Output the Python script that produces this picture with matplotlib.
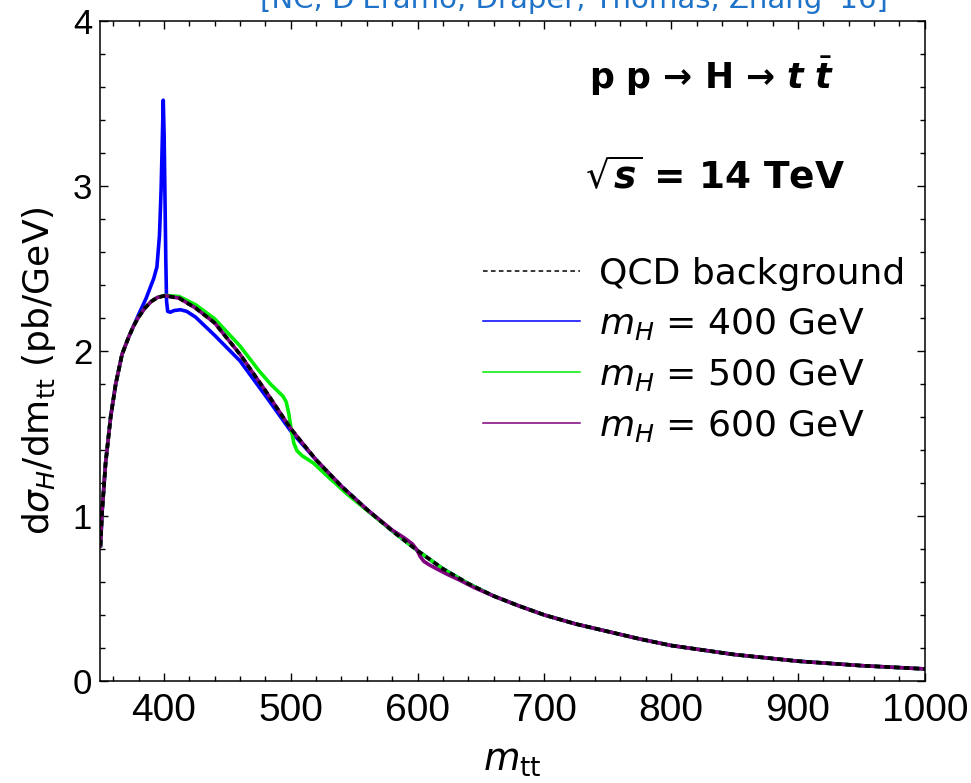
import matplotlib
matplotlib.use('Agg')
import matplotlib.pyplot as plt
from matplotlib.lines import Line2D
from matplotlib.ticker import MultipleLocator

plt.rcParams['font.family'] = ['DejaVu Sans']
plt.rcParams['mathtext.fontset'] = 'dejavusans'

# QCD background, d sigma / d m_tt in pb/GeV
bg_m = [350, 351.3, 354, 358, 362, 367, 372, 376, 380, 385, 390, 395, 401, 412, 425, 440, 460, 480, 500,
        520, 540, 560, 580, 600, 620, 640, 660, 680, 700, 725, 750, 775, 800, 850, 900, 950, 1000]
bg_v = [0.82, 1.03, 1.32, 1.60, 1.80, 1.98, 2.08, 2.15, 2.205, 2.26, 2.30, 2.325, 2.335, 2.32, 2.26, 2.17,
        1.98, 1.76, 1.53, 1.34, 1.18, 1.04, 0.91, 0.79, 0.68, 0.59, 0.515, 0.455, 0.40, 0.345, 0.30, 0.255,
        0.215, 0.16, 0.12, 0.093, 0.073]

# m_H = 400 GeV
h400_m = [350, 351.3, 354, 358, 362, 367, 372, 376, 380, 383, 386, 389, 392, 394.5, 396.5, 397.8, 398.8,
          399.5, 400.2, 400.9, 401.5, 402.1, 403, 405, 408, 413, 418, 425, 440, 460, 480, 500, 520, 540,
          560, 580, 600, 620, 640, 660, 680, 700, 725, 750, 775, 800, 850, 900, 950, 1000]
h400_v = [0.82, 1.03, 1.32, 1.60, 1.80, 1.98, 2.08, 2.15, 2.22, 2.27, 2.32, 2.38, 2.44, 2.51, 2.70, 2.98,
          3.30, 3.52, 3.30, 2.90, 2.55, 2.30, 2.24, 2.235, 2.245, 2.25, 2.24, 2.205, 2.095, 1.94, 1.73,
          1.515, 1.34, 1.18, 1.04, 0.91, 0.79, 0.68, 0.59, 0.515, 0.455, 0.40, 0.345, 0.30, 0.255, 0.215,
          0.16, 0.12, 0.093, 0.073]

# m_H = 500 GeV
h500_m = [350, 351.3, 354, 358, 362, 367, 372, 376, 380, 385, 390, 395, 401, 412, 425, 440, 460, 475, 484,
          490, 494, 496.5, 498.5, 500.5, 502.5, 505, 509, 518, 531, 544, 560, 580, 600, 620, 640, 660, 680,
          700, 725, 750, 775, 800, 850, 900, 950, 1000]
h500_v = [0.82, 1.03, 1.32, 1.60, 1.80, 1.98, 2.08, 2.15, 2.205, 2.26, 2.30, 2.325, 2.337, 2.33, 2.28,
          2.195, 2.03, 1.88, 1.80, 1.755, 1.725, 1.69, 1.62, 1.52, 1.44, 1.395, 1.365, 1.32, 1.227, 1.136,
          1.035, 0.91, 0.79, 0.68, 0.59, 0.515, 0.455, 0.40, 0.345, 0.30, 0.255, 0.215, 0.16, 0.12, 0.093,
          0.073]

# m_H = 600 GeV
h600_m = [350, 351.3, 354, 358, 362, 367, 372, 376, 380, 385, 390, 395, 401, 412, 425, 440, 460, 480, 500,
          520, 540, 560, 580, 590, 596, 599.5, 602, 605, 609, 615, 623, 633, 645, 660, 680, 700, 725, 750,
          775, 800, 850, 900, 950, 1000]
h600_v = [0.82, 1.03, 1.32, 1.60, 1.80, 1.98, 2.08, 2.15, 2.205, 2.26, 2.30, 2.325, 2.335, 2.32, 2.26, 2.17,
          1.98, 1.76, 1.53, 1.34, 1.18, 1.04, 0.915, 0.865, 0.83, 0.795, 0.755, 0.725, 0.705, 0.68, 0.648,
          0.612, 0.565, 0.515, 0.455, 0.40, 0.345, 0.30, 0.255, 0.215, 0.16, 0.12, 0.093, 0.073]

labels = ['QCD background', r'$m_H$ = 400 GeV', r'$m_H$ = 500 GeV', r'$m_H$ = 600 GeV']
colors = ['black', '#0000ff', '#00ee00', '#800080']
xticks = [400, 500, 600, 700, 800, 900, 1000]
yticks = [0, 1, 2, 3, 4]

fig = plt.figure(figsize=(9.71, 7.83), dpi=100)
ax = fig.add_axes([0.1035, 0.1303, 0.8489, 0.8429])

lw = 2.6
ax.plot(h400_m, h400_v, color=colors[1], lw=lw, solid_joinstyle='round')
ax.plot(h500_m, h500_v, color=colors[2], lw=lw, solid_joinstyle='round')
ax.plot(h600_m, h600_v, color=colors[3], lw=lw, solid_joinstyle='round')
ax.plot(bg_m, bg_v, color=colors[0], lw=lw, ls=(0, (1.6, 1.1)))

ax.set_xlim(350, 1000)
ax.set_ylim(0, 4)
ax.set_xticks(xticks)
ax.set_yticks(yticks)
ax.xaxis.set_minor_locator(MultipleLocator(20))
ax.yaxis.set_minor_locator(MultipleLocator(0.2))
ax.tick_params(which='both', direction='in', top=True, right=True, width=1.0, color='black')
ax.tick_params(which='major', length=6)
ax.tick_params(which='minor', length=3.5)
ax.tick_params(axis='x', labelsize=28, pad=9, labelfontfamily='Liberation Sans')
ax.tick_params(axis='y', labelsize=25, pad=6, labelfontfamily='Liberation Sans')
for s in ax.spines.values():
    s.set_linewidth(1.1)

ax.set_xlabel(r'$m_{\rm tt}$', fontsize=27, labelpad=10)
ax.set_ylabel(r'd$\sigma_H$/dm$_{\rm tt}$ (pb/GeV)', fontsize=26)
ax.yaxis.set_label_coords(-0.051, 0.47)

handles = [Line2D([], [], color=colors[0], lw=1.1, ls=(0, (3, 2.2))),
           Line2D([], [], color=colors[1], lw=1.1),
           Line2D([], [], color=colors[2], lw=1.1),
           Line2D([], [], color=colors[3], lw=1.1)]
ax.legend(handles, labels, loc='upper left', bbox_to_anchor=(0.464, 0.643), frameon=False, fontsize=26,
          handlelength=2.7, handletextpad=0.5, labelspacing=0.42, borderpad=0, borderaxespad=0)

ax.text(0.593, 0.897, r'p p → H → $\mathbfit{t}\ \bar{\mathbfit{t}}$', transform=ax.transAxes,
        fontsize=25, fontweight='bold', va='baseline')
ax.text(0.588, 0.747, r'$\sqrt{\mathbfit{s}}$ = 14 TeV', transform=ax.transAxes,
        fontsize=27, fontweight='bold', va='baseline')

fig.text(0.5906, 0.9895, "[NC, D'Eramo, Draper, Thomas, Zhang '16]", color='#1e73c8', fontsize=21,
         ha='center', va='baseline')

fig.savefig('out.png', dpi=100)
